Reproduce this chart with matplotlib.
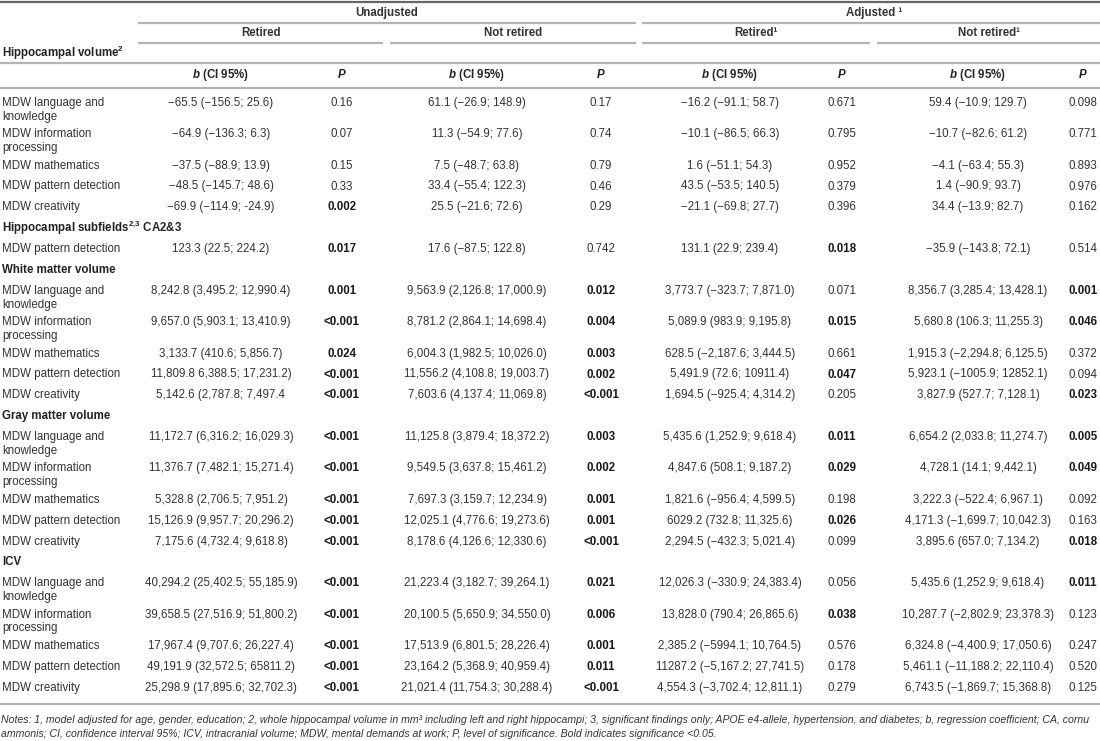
import matplotlib
matplotlib.use("Agg")
import matplotlib.pyplot as plt

plt.rcParams['font.family'] = ['Liberation Sans', 'DejaVu Sans']
plt.rcParams['mathtext.fontset'] = 'custom'
plt.rcParams['mathtext.rm'] = 'Liberation Sans'
plt.rcParams['mathtext.it'] = 'Liberation Sans:italic'
plt.rcParams['mathtext.bf'] = 'Liberation Sans:bold'
if 'mathtext.bfit' in plt.rcParams:
    plt.rcParams['mathtext.bfit'] = 'Liberation Sans:italic:bold'

# ---- table content ----
sections = [r"Hippocampal volume$^{\mathbf{2}}$",
            r"Hippocampal subfields$^{\mathbf{2{,}3}}$ CA2&3",
            "White matter volume",
            "Gray matter volume",
            "ICV"]

row_section = [0, 0, 0, 0, 0, 1, 2, 2, 2, 2, 2, 3, 3, 3, 3, 3, 4, 4, 4, 4, 4]

row_labels = ["MDW language and\nknowledge", "MDW information\nprocessing",
              "MDW mathematics", "MDW pattern detection", "MDW creativity",
              "MDW pattern detection",
              "MDW language and\nknowledge", "MDW information\nprocessing",
              "MDW mathematics", "MDW pattern detection", "MDW creativity",
              "MDW language and\nknowledge", "MDW information\nprocessing",
              "MDW mathematics", "MDW pattern detection", "MDW creativity",
              "MDW language and\nknowledge", "MDW information\nprocessing",
              "MDW mathematics", "MDW pattern detection", "MDW creativity"]

unadj_ret_b = ["\u221265.5 (\u2212156.5; 25.6)", "\u221264.9 (\u2212136.3; 6.3)",
               "\u221237.5 (\u221288.9; 13.9)", "\u221248.5 (\u2212145.7; 48.6)",
               "\u221269.9 (\u2212114.9; -24.9)",
               "123.3 (22.5; 224.2)",
               "8,242.8 (3,495.2; 12,990.4)", "9,657.0 (5,903.1; 13,410.9)",
               "3,133.7 (410.6; 5,856.7)", "11,809.8 6,388.5; 17,231.2)",
               "5,142.6 (2,787.8; 7,497.4",
               "11,172.7 (6,316.2; 16,029.3)", "11,376.7 (7,482.1; 15,271.4)",
               "5,328.8 (2,706.5; 7,951.2)", "15,126.9 (9,957.7; 20,296.2)",
               "7,175.6 (4,732.4; 9,618.8)",
               "40,294.2 (25,402.5; 55,185.9)", "39,658.5 (27,516.9; 51,800.2)",
               "17,967.4 (9,707.6; 26,227.4)", "49,191.9 (32,572.5; 65811.2)",
               "25,298.9 (17,895.6; 32,702.3)"]
unadj_ret_p = ["0.16", "0.07", "0.15", "0.33", "0.002",
               "0.017",
               "0.001", "<0.001", "0.024", "<0.001", "<0.001",
               "<0.001", "<0.001", "<0.001", "<0.001", "<0.001",
               "<0.001", "<0.001", "<0.001", "<0.001", "<0.001"]

unadj_not_b = ["61.1 (\u221226.9; 148.9)", "11.3 (\u221254.9; 77.6)",
               "7.5 (\u221248.7; 63.8)", "33.4 (\u221255.4; 122.3)",
               "25.5 (\u221221.6; 72.6)",
               "17.6 (\u221287.5; 122.8)",
               "9,563.9 (2,126.8; 17,000.9)", "8,781.2 (2,864.1; 14,698.4)",
               "6,004.3 (1,982.5; 10,026.0)", "11,556.2 (4,108.8; 19,003.7)",
               "7,603.6 (4,137.4; 11,069.8)",
               "11,125.8 (3,879.4; 18,372.2)", "9,549.5 (3,637.8; 15,461.2)",
               "7,697.3 (3,159.7; 12,234.9)", "12,025.1 (4,776.6; 19,273.6)",
               "8,178.6 (4,126.6; 12,330.6)",
               "21,223.4 (3,182.7; 39,264.1)", "20,100.5 (5,650.9; 34,550.0)",
               "17,513.9 (6,801.5; 28,226.4)", "23,164.2 (5,368.9; 40,959.4)",
               "21,021.4 (11,754.3; 30,288.4)"]
unadj_not_p = ["0.17", "0.74", "0.79", "0.46", "0.29",
               "0.742",
               "0.012", "0.004", "0.003", "0.002", "<0.001",
               "0.003", "0.002", "0.001", "0.001", "<0.001",
               "0.021", "0.006", "0.001", "0.011", "<0.001"]

adj_ret_b = ["\u221216.2 (\u221291.1; 58.7)", "\u221210.1 (\u221286.5; 66.3)",
             "1.6 (\u221251.1; 54.3)", "43.5 (\u221253.5; 140.5)",
             "\u221221.1 (\u221269.8; 27.7)",
             "131.1 (22.9; 239.4)",
             "3,773.7 (\u2212323.7; 7,871.0)", "5,089.9 (983.9; 9,195.8)",
             "628.5 (\u22122,187.6; 3,444.5)", "5,491.9 (72.6; 10911.4)",
             "1,694.5 (\u2212925.4; 4,314.2)",
             "5,435.6 (1,252.9; 9,618.4)", "4,847.6 (508.1; 9,187.2)",
             "1,821.6 (\u2212956.4; 4,599.5)", "6029.2 (732.8; 11,325.6)",
             "2,294.5 (\u2212432.3; 5,021.4)",
             "12,026.3 (\u2212330.9; 24,383.4)", "13,828.0 (790.4; 26,865.6)",
             "2,385.2 (\u22125994.1; 10,764.5)", "11287.2 (\u22125,167.2; 27,741.5)",
             "4,554.3 (\u22123,702.4; 12,811.1)"]
adj_ret_p = ["0.671", "0.795", "0.952", "0.379", "0.396",
             "0.018",
             "0.071", "0.015", "0.661", "0.047", "0.205",
             "0.011", "0.029", "0.198", "0.026", "0.099",
             "0.056", "0.038", "0.576", "0.178", "0.279"]

adj_not_b = ["59.4 (\u221210.9; 129.7)", "\u221210.7 (\u221282.6; 61.2)",
             "\u22124.1 (\u221263.4; 55.3)", "1.4 (\u221290.9; 93.7)",
             "34.4 (\u221213.9; 82.7)",
             "\u221235.9 (\u2212143.8; 72.1)",
             "8,356.7 (3,285.4; 13,428.1)", "5,680.8 (106.3; 11,255.3)",
             "1,915.3 (\u22122,294.8; 6,125.5)", "5,923.1 (\u22121005.9; 12852.1)",
             "3,827.9 (527.7; 7,128.1)",
             "6,654.2 (2,033.8; 11,274.7)", "4,728.1 (14.1; 9,442.1)",
             "3,222.3 (\u2212522.4; 6,967.1)", "4,171.3 (\u22121,699.7; 10,042.3)",
             "3,895.6 (657.0; 7,134.2)",
             "5,435.6 (1,252.9; 9,618.4)", "10,287.7 (\u22122,802.9; 23,378.3)",
             "6,324.8 (\u22124,400.9; 17,050.6)", "5,461.1 (\u221211,188.2; 22,110.4)",
             "6,743.5 (\u22121,869.7; 15,368.8)"]
adj_not_p = ["0.098", "0.771", "0.893", "0.976", "0.162",
             "0.514",
             "0.001", "0.046", "0.372", "0.094", "0.023",
             "0.005", "0.049", "0.092", "0.163", "0.018",
             "0.011", "0.123", "0.247", "0.520", "0.125"]

notes = ["Notes: 1, model adjusted for age, gender, education; 2, whole hippocampal volume in mm\u00b3 "
         "including left and right hippocampi; 3, significant findings only; APOE e4-allele, "
         "hypertension, and diabetes; b, regression coefficient; CA, cornu",
         "ammonis; CI, confidence interval 95%; ICV, intracranial volume; MDW, mental demands at work; "
         "P, level of significance. Bold indicates significance <0.05."]

# ---- layout ----
W, H = 1100, 741
TXT = '#333333'
LINE = '#b4b4b4'
FS = 8.3

fig = plt.figure(figsize=(11, 7.41), dpi=100)
ax = fig.add_axes([0, 0, 1, 1])
ax.set_xlim(0, W)
ax.set_ylim(H, 0)
ax.axis('off')

col_x = [221, 342, 477, 601, 730, 842, 978, 1083]
columns = [(unadj_ret_b, unadj_ret_p), (unadj_not_b, unadj_not_p),
           (adj_ret_b, adj_ret_p), (adj_not_b, adj_not_p)]


def hline(y, x0, x1, color=LINE, lw=1.6):
    ax.plot([x0, x1], [y, y], color=color, lw=lw, solid_capstyle='butt')


def is_sig(p):
    return p.startswith('<') or float(p) < 0.05


# header
hline(1.5, 0, W, color='#666666', lw=1.6)
ax.text(387, 13, "Unadjusted", ha='center', va='center', fontsize=FS,
        fontweight='bold', color=TXT)
ax.text(874, 13, "Adjusted \u00b9", ha='center', va='center', fontsize=FS,
        fontweight='bold', color=TXT)
hline(23, 138, 636)
hline(23, 642, W)
for x0, x1, lab in [(138, 383, "Retired"), (390, 636, "Not retired"),
                    (642, 870, "Retired\u00b9"), (877, W, "Not retired\u00b9")]:
    ax.text((x0 + x1) / 2, 33, lab, ha='center', va='center', fontsize=FS,
            fontweight='bold', color=TXT)
    hline(43, x0, x1)
ax.text(2, 53, sections[0], ha='left', va='center', fontsize=FS,
        fontweight='bold', color='#222222')
hline(63, 0, W)
for i, x in enumerate(col_x):
    if i % 2 == 0:
        lab = r"$\mathbfit{b}$ (CI 95%)"
        ax.text(x, 75, lab, ha='center', va='center', fontsize=FS,
                fontweight='bold', color='#222222')
    else:
        ax.text(x, 75, "P", ha='center', va='center', fontsize=FS,
                fontweight='bold', fontstyle='italic', color='#222222')
hline(88, 0, W)

# body
y = 103
S, T, LH = 20.9, 31.3, 13.8
prev_sec = 0
for r, lab in enumerate(row_labels):
    sec = row_section[r]
    if sec != prev_sec:
        ax.text(2, y, sections[sec], ha='left', va='center', fontsize=FS,
                fontweight='bold', color='#222222')
        y += S
        prev_sec = sec
    lines = lab.split("\n")
    for k, ln in enumerate(lines):
        ax.text(2, y + k * LH, ln, ha='left', va='center', fontsize=FS,
                color=TXT)
    for c, (bcol, pcol) in enumerate(columns):
        ax.text(col_x[2 * c], y, bcol[r], ha='center', va='center',
                fontsize=FS, color=TXT)
        p = pcol[r]
        sig = is_sig(p)
        ax.text(col_x[2 * c + 1], y, p, ha='center', va='center', fontsize=FS,
                fontweight='bold' if sig else 'normal',
                color='#1a1a1a' if sig else TXT)
    y += T if len(lines) > 1 else S

hline(y - 5, 0, W)

# notes, sized to fill the width
note_y = [y + 11, y + 25]
renderer = fig.canvas.get_renderer()
note_texts = [ax.text(1, ny, line, ha='left', va='center', fontsize=7.2,
                      fontstyle='italic', color=TXT)
              for ny, line in zip(note_y, notes)]
bb = note_texts[0].get_window_extent(renderer)
scale = (W - 4) / bb.width
for t in note_texts:
    t.set_fontsize(7.2 * scale)

fig.savefig("out.png", dpi=100)
